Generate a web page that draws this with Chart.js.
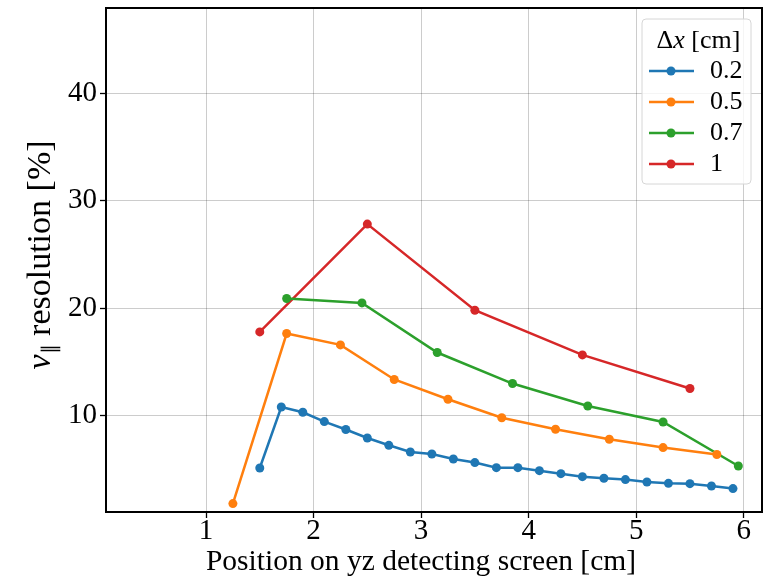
<!DOCTYPE html>
<html>
<head>
<meta charset="utf-8">
<script src="https://cdn.jsdelivr.net/npm/chart.js@4.4.0/dist/chart.umd.min.js"></script>
<style>
  html, body { margin: 0; padding: 0; background: #fff; }
</style>
</head>
<body>
<canvas id="chart" width="772" height="580"></canvas>
<script>
// series: dx = 0.2, 0.5, 0.7, 1 cm
const seriesLabels = ['0.2', '0.5', '0.7', '1'];
const seriesColors = ['#1f77b4', '#ff7f0e', '#2ca02c', '#d62728'];

const x02 = [1.5, 1.7, 1.9, 2.1, 2.3, 2.5, 2.7, 2.9, 3.1, 3.3, 3.5, 3.7, 3.9, 4.1, 4.3, 4.5, 4.7, 4.9, 5.1, 5.3, 5.5, 5.7, 5.9];
const y02 = [5.12, 10.8, 10.31, 9.44, 8.7, 7.91, 7.23, 6.61, 6.42, 5.95, 5.62, 5.15, 5.15, 4.87, 4.59, 4.31, 4.16, 4.04, 3.81, 3.69, 3.66, 3.44, 3.2];

const x05 = [1.25, 1.75, 2.25, 2.75, 3.25, 3.75, 4.25, 4.75, 5.25, 5.75];
const y05 = [1.8, 17.64, 16.58, 13.36, 11.52, 9.8, 8.72, 7.79, 7.02, 6.37];

const x07 = [1.75, 2.45, 3.15, 3.85, 4.55, 5.25, 5.95];
const y07 = [20.9, 20.49, 15.87, 12.98, 10.89, 9.4, 5.3];

const x10 = [1.5, 2.5, 3.5, 4.5, 5.5];
const y10 = [17.79, 27.83, 19.81, 15.65, 12.52];

const xTicks = [1, 2, 3, 4, 5, 6];
const yTicks = [10, 20, 30, 40];

const xTitleText = 'Position on yz detecting screen [cm]';

const xs = [x02, x05, x07, x10];
const ys = [y02, y05, y07, y10];

const serif = "'Liberation Serif', 'Times New Roman', serif";

// black box around the axes, like matplotlib spines
const frame = {
  id: 'frame',
  afterDatasetsDraw(chart) {
    const { ctx, chartArea: a } = chart;
    ctx.save();
    ctx.strokeStyle = '#000';
    ctx.lineWidth = 2;
    ctx.strokeRect(a.left, a.top, a.right - a.left, a.bottom - a.top);
    ctx.restore();
  }
};

// axis titles; the y one has an italic v and a subscript
const axisTitles = {
  id: 'axisTitles',
  afterDraw(chart) {
    const { ctx, chartArea: a } = chart;
    ctx.save();
    ctx.fillStyle = '#000';
    ctx.textBaseline = 'alphabetic';

    ctx.font = '29.5px ' + serif;
    ctx.textAlign = 'center';
    ctx.fillText(xTitleText, (a.left + a.right) / 2 - 13, 570);

    const parts = [
      { t: 'v', f: 'italic 34px ' + serif, dy: 0 },
      { t: '\u2225', f: '20px ' + serif, dy: 6 },
      { t: ' resolution [%]', f: '34px ' + serif, dy: 0 }
    ];
    let total = 0;
    parts.forEach(p => { ctx.font = p.f; p.w = ctx.measureText(p.t).width; total += p.w; });
    ctx.translate(50, (a.top + a.bottom) / 2 - 5);
    ctx.rotate(-Math.PI / 2);
    ctx.textAlign = 'left';
    let x = -total / 2;
    parts.forEach(p => { ctx.font = p.f; ctx.fillText(p.t, x, p.dy); x += p.w; });
    ctx.restore();
  }
};

// legend box in the upper right corner
const legendBox = {
  id: 'legendBox',
  afterDraw(chart) {
    const { ctx, chartArea: a } = chart;
    const w = 109, h = 165;
    const x0 = a.right - 120, y0 = a.top + 11;
    ctx.save();
    ctx.beginPath();
    ctx.roundRect(x0, y0, w, h, 4);
    ctx.fillStyle = 'rgba(255,255,255,0.8)';
    ctx.fill();
    ctx.strokeStyle = '#d6d6d6';
    ctx.lineWidth = 1;
    ctx.stroke();

    // title: Δx [cm]
    ctx.fillStyle = '#000';
    ctx.textBaseline = 'middle';
    const tparts = [
      { t: '\u0394', f: '26px ' + serif },
      { t: 'x', f: 'italic 26px ' + serif },
      { t: ' [cm]', f: '26px ' + serif }
    ];
    let tw = 0;
    tparts.forEach(p => { ctx.font = p.f; p.w = ctx.measureText(p.t).width; tw += p.w; });
    let tx = x0 + w / 2 - tw / 2 + 2;
    tparts.forEach(p => { ctx.font = p.f; ctx.fillText(p.t, tx, y0 + 22); tx += p.w; });

    chart.data.datasets.forEach((ds, i) => {
      const cy = y0 + 52 + i * 31;
      ctx.strokeStyle = ds.borderColor;
      ctx.lineWidth = 2.5;
      ctx.beginPath();
      ctx.moveTo(x0 + 7, cy);
      ctx.lineTo(x0 + 52, cy);
      ctx.stroke();
      ctx.fillStyle = ds.borderColor;
      ctx.beginPath();
      ctx.arc(x0 + 29, cy, 4.5, 0, Math.PI * 2);
      ctx.fill();
      ctx.fillStyle = '#000';
      ctx.font = '26px ' + serif;
      ctx.textAlign = 'left';
      ctx.fillText(ds.label, x0 + 68, cy);
    });
    ctx.restore();
  }
};

const gridStyle = {
  color: 'rgba(0,0,0,0.2)',
  lineWidth: 1,
  tickColor: '#000',
  tickLength: 6,
  tickWidth: 1.3
};

new Chart(document.getElementById('chart'), {
  type: 'line',
  data: {
    datasets: seriesLabels.map((lab, i) => ({
      label: lab,
      data: xs[i].map((x, j) => ({ x: x, y: ys[i][j] })),
      borderColor: seriesColors[i],
      backgroundColor: seriesColors[i],
      borderWidth: 2.5,
      pointRadius: 4.5,
      pointHoverRadius: 4.5,
      pointBorderWidth: 0,
      tension: 0,
      clip: false
    }))
  },
  options: {
    responsive: false,
    animation: false,
    layout: { padding: { left: 0, top: 8, right: 10, bottom: 0 } },
    plugins: { legend: { display: false }, tooltip: { enabled: false } },
    scales: {
      x: {
        type: 'linear',
        min: 0.07,
        max: 6.17,
        afterBuildTicks: s => { s.ticks = xTicks.map(v => ({ value: v })); },
        afterFit: s => { s.height = 68; s.paddingLeft = 0; s.paddingRight = 0; },
        grid: gridStyle,
        border: { display: false },
        ticks: { color: '#000', font: { family: serif, size: 29 }, padding: -4, maxRotation: 0, autoSkip: false },
        title: { display: false }
      },
      y: {
        type: 'linear',
        min: 1.02,
        max: 47.95,
        afterBuildTicks: s => { s.ticks = yTicks.map(v => ({ value: v })); },
        afterFit: s => { s.width = 106; s.paddingTop = 0; s.paddingBottom = 0; },
        grid: gridStyle,
        border: { display: false },
        ticks: { color: '#000', font: { family: serif, size: 29 }, padding: 3 }
      }
    }
  },
  plugins: [frame, axisTitles, legendBox]
});
</script>
</body>
</html>
